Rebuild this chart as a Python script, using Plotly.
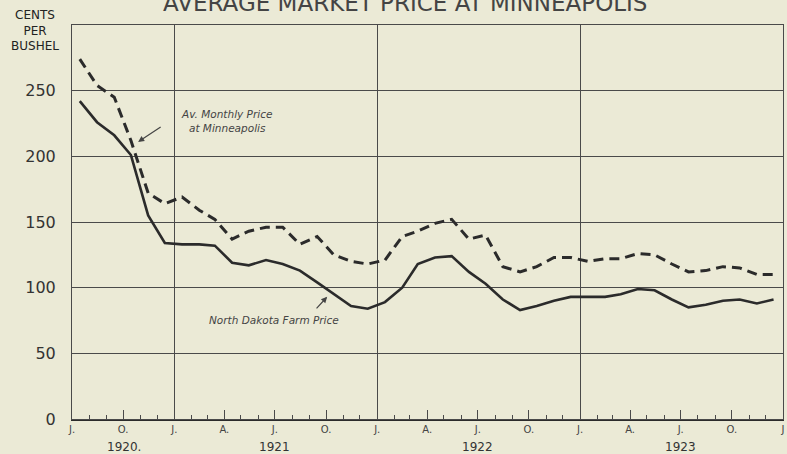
import plotly.graph_objects as go
import pandas as pd

# ---- data (cents per bushel), monthly Jul 1920 - Dec 1923 ----
months = [d + pd.Timedelta(days=14) for d in pd.date_range("1920-07-01", "1923-12-01", freq="MS")]

minneapolis = [274, 254, 245, 212, 172, 164,
               169, 159, 152, 137, 143, 146, 146, 133, 139, 125, 120, 118,
               121, 139, 143, 149, 152, 137, 140, 116, 112, 116, 123, 123,
               120, 122, 122, 126, 125, 118, 112, 113, 116, 115, 110, 110]

north_dakota = [242, 226, 216, 201, 155, 134,
                133, 133, 132, 119, 117, 121, 118, 113, 104, 95, 86, 84,
                89, 100, 118, 123, 124, 112, 103, 91, 83, 86, 90, 93,
                93, 93, 95, 99, 98, 91, 85, 87, 90, 91, 88, 91]

quarter_ticks = ["1920-07-01", "1920-10-01", "1921-01-01", "1921-04-01", "1921-07-01",
                 "1921-10-01", "1922-01-01", "1922-04-01", "1922-07-01", "1922-10-01",
                 "1923-01-01", "1923-04-01", "1923-07-01", "1923-10-01", "1924-01-01"]
quarter_labels = ["J.", "O.", "J.", "A.", "J.", "O.", "J.", "A.", "J.", "O.", "J.", "A.", "J.", "O.", "J"]
year_ticks = ["1921-01-01", "1922-01-01", "1923-01-01"]
year_labels = ["1920.", "1921", "1922", "1923"]
year_label_pos = ["1920-10-03", "1921-07-01", "1922-07-01", "1923-07-01"]
y_ticks = [0, 50, 100, 150, 200, 250]

BG = "#ebead6"
INK = "#2b2b2b"
GRID = "#4a4a4a"
XR = ["1920-07-01", "1924-01-01"]

fig = go.Figure()
fig.add_trace(go.Scatter(x=months, y=north_dakota, mode="lines",
                         line=dict(color=INK, width=2.6), xaxis="x", yaxis="y",
                         showlegend=False, hoverinfo="skip"))
fig.add_trace(go.Scatter(x=months, y=minneapolis, mode="lines",
                         line=dict(color=INK, width=3, dash="10px,6px"), xaxis="x2", yaxis="y",
                         showlegend=False, hoverinfo="skip"))

fig.update_layout(
    width=787, height=454,
    margin=dict(l=72, r=4, t=25, b=35),
    paper_bgcolor=BG, plot_bgcolor=BG,
    font=dict(family="DejaVu Sans", color="#333"),
    xaxis=dict(type="date", range=XR, tickmode="array", tickvals=quarter_ticks,
               ticktext=quarter_labels, ticks="inside", ticklen=9, tickcolor=GRID,
               tickwidth=1, showgrid=False, zeroline=False,
               showline=True, linecolor=INK, linewidth=2, mirror=False,
               tickfont=dict(size=10, color="#444"),
               minor=dict(dtick="M1", tick0="1920-07-01", ticks="inside", ticklen=4,
                          tickcolor=GRID, showgrid=False)),
    xaxis2=dict(type="date", range=XR, overlaying="x", side="bottom", tickmode="array",
                tickvals=year_ticks, showticklabels=False, ticks="", showgrid=True,
                gridcolor=GRID, gridwidth=1, zeroline=False,
                showline=True, linecolor=GRID, linewidth=1, mirror=True),
    yaxis=dict(range=[0, 300], tickmode="array", tickvals=y_ticks,
               ticktext=[str(v) for v in y_ticks], showgrid=True, gridcolor=GRID, gridwidth=1,
               zeroline=False, showline=True, linecolor=GRID, linewidth=1, mirror=True,
               ticks="", ticklabelstandoff=12, tickfont=dict(size=16, color="#333")),
)

ann = []
for lab, pos in zip(year_labels, year_label_pos):
    ann.append(dict(x=pos, y=-0.07, xref="x", yref="paper", text=lab, showarrow=False,
                    xanchor="center", yanchor="middle", font=dict(size=12, color="#333")))
ann.append(dict(x=0.469, y=1.055, xref="paper", yref="paper", xanchor="center", yanchor="middle",
                text="AVERAGE MARKET PRICE AT MINNEAPOLIS", showarrow=False,
                font=dict(size=23, color="#444")))
ann.append(dict(x=-0.052, y=0.987, xref="paper", yref="paper", xanchor="center", yanchor="middle",
                text="CENTS<br>PER<br>BUSHEL", showarrow=False, align="center",
                font=dict(size=12, color="#222")))
ann.append(dict(x=0.2166, y=0.756, xref="paper", yref="paper", xanchor="center", yanchor="middle",
                text="Av. Monthly Price<br>at Minneapolis", showarrow=False, align="center",
                font=dict(size=10.5, color="#444", style="italic")))
ann.append(dict(x=0.284, y=0.251, xref="paper", yref="paper", xanchor="center", yanchor="middle",
                text="North Dakota Farm Price", showarrow=False,
                font=dict(size=10.5, color="#444", style="italic")))
ann.append(dict(x="1920-10-28", y=211, xref="x", yref="y", text="", showarrow=True,
                arrowhead=2, arrowsize=1, arrowwidth=1.2, arrowcolor="#444", ax=24, ay=-16))
ann.append(dict(x="1921-10-03", y=93, xref="x", yref="y", text="", showarrow=True,
                arrowhead=2, arrowsize=1, arrowwidth=1.2, arrowcolor="#444", ax=-12, ay=13))
fig.update_layout(annotations=ann)

fig.write_html("out.html", config={"displayModeBar": False},
               post_script="document.body.style.margin='0';")
